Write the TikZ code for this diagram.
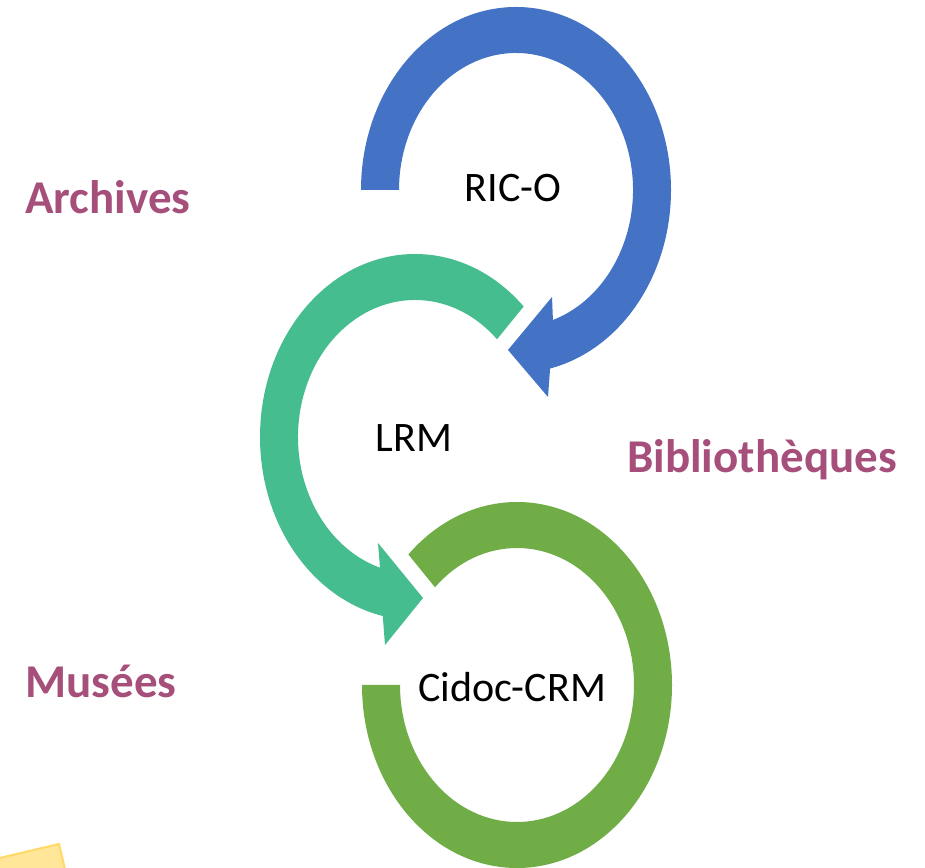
\documentclass[tikz,border=0pt]{standalone}
\usepackage{fontspec}
\setmainfont{Carlito}
\definecolor{ricblue}{HTML}{4472C4}
\definecolor{lrmgreen}{HTML}{46BD8F}
\definecolor{cidocgreen}{HTML}{70AD47}
\definecolor{labelpurple}{HTML}{A64F7B}
\definecolor{noteyellow}{HTML}{FFE699}
\definecolor{noteborder}{HTML}{FFD966}
\begin{document}
\begin{tikzpicture}[x=1pt,y=1pt,
  fieldlabel/.style={font=\fontsize{47}{56}\selectfont\bfseries, text=labelpurple, inner sep=0pt, anchor=base},
  modellabel/.style={font=\fontsize{42}{50}\selectfont, text=black, inner sep=0pt, anchor=base}]
\useasboundingbox (0,0) rectangle (925,867);
\clip (0,0) rectangle (925,867);
\fill[white] (0,0) rectangle (925,867);

% yellow note corner
\filldraw[fill=noteyellow, draw=noteborder, line width=2pt, rotate around={13.3:(59,23)}] (59,23) rectangle (-200,-200);

% RIC-O blue circular arrow
\fill[ricblue] ([shift={(516,677)}]180:155 and 183)
  arc[start angle=180, end angle=-77.3, x radius=155, y radius=183]
  -- (548,470) -- (508,517) -- (552,570)
  -- ([shift={(516,677)}]-71.6:117 and 137)
  arc[start angle=-71.6, end angle=180, x radius=117, y radius=137] -- cycle;

% LRM green circular arrow
\fill[lrmgreen] ([shift={(415,430)}]45.5:155 and 183)
  arc[start angle=45.5, end angle=258, x radius=155, y radius=183]
  -- (385,222) -- (423,269) -- (378,324)
  -- ([shift={(415,430)}]252.6:117 and 137)
  arc[start angle=252.6, end angle=45.5, x radius=117, y radius=137] -- cycle;

% Cidoc-CRM green ring
\fill[cidocgreen] ([shift={(517,182)}]180:155 and 183)
  arc[start angle=180, end angle=494.5, x radius=155, y radius=183]
  -- ([shift={(517,182)}]134.5:117 and 137)
  arc[start angle=134.5, end angle=-180, x radius=117, y radius=137] -- cycle;

\node[modellabel] (rico) at (513,665) {RIC-O};
\node[modellabel] (lrm) at (414,415) {LRM};
\node[modellabel] (cidoc) at (512,165) {Cidoc-CRM};
\node[fieldlabel] (archives) at (108,653) {Archives};
\node[fieldlabel] (biblio) at (762,394) {Bibliothèques};
\node[fieldlabel] (musees) at (101,170) {Musées};
\end{tikzpicture}
\end{document}
